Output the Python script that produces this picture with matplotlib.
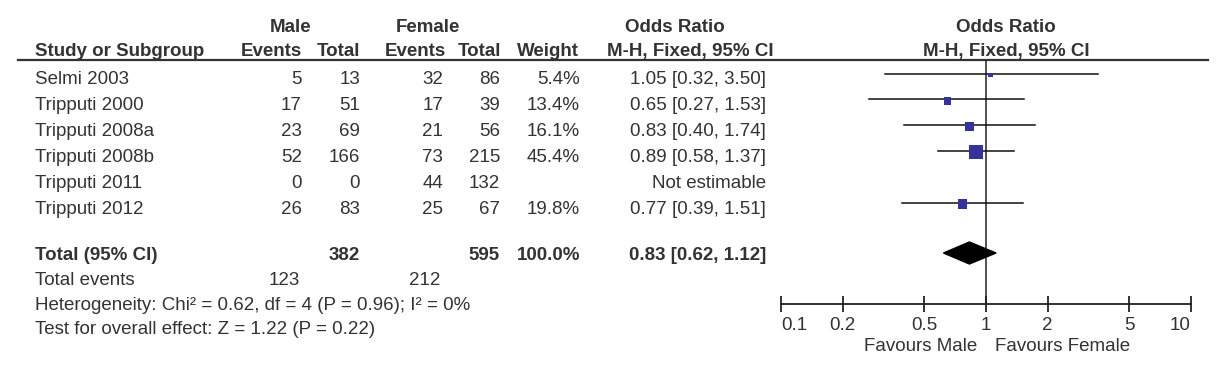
import numpy as np
import matplotlib.pyplot as plt

plt.rcParams['font.family'] = ['Liberation Sans', 'DejaVu Sans']

# Study data
studies = ['Selmi 2003', 'Tripputi 2000', 'Tripputi 2008a', 'Tripputi 2008b',
           'Tripputi 2011', 'Tripputi 2012']
male_events = [5, 17, 23, 52, 0, 26]
male_total = [13, 51, 69, 166, 0, 83]
female_events = [32, 17, 21, 73, 44, 25]
female_total = [86, 39, 56, 215, 132, 67]
weights = [5.4, 13.4, 16.1, 45.4, None, 19.8]
odds = [1.05, 0.65, 0.83, 0.89, None, 0.77]
ci_low = [0.32, 0.27, 0.40, 0.58, None, 0.39]
ci_high = [3.50, 1.53, 1.74, 1.37, None, 1.51]

# Pooled result
total_male, total_female = 382, 595
events_male, events_female = 123, 212
total_or, total_low, total_high = 0.83, 0.62, 1.12

xticks = [0.1, 0.2, 0.5, 1, 2, 5, 10]

TXT = '#333333'
FS = 13.5
W, H = 1228, 372

fig = plt.figure(figsize=(W / 100, H / 100), dpi=100)
ax = fig.add_axes([0, 0, 1, 1])
ax.set_xlim(0, W)
ax.set_ylim(H, 0)
ax.axis('off')


def txt(x, y, s, ha='left', bold=False):
    ax.text(x, y, s, ha=ha, va='baseline', fontsize=FS, color=TXT,
            fontweight='bold' if bold else 'normal')


# headers
txt(291, 32, 'Male', 'center', True)
txt(428, 32, 'Female', 'center', True)
txt(675, 32, 'Odds Ratio', 'center', True)
txt(1006, 32, 'Odds Ratio', 'center', True)
txt(35, 56, 'Study or Subgroup', 'left', True)
for x, s in [(302, 'Events'), (360, 'Total'), (446, 'Events'), (501, 'Total'), (579, 'Weight')]:
    txt(x, 56, s, 'right', True)
txt(690, 56, 'M-H, Fixed, 95% CI', 'center', True)
txt(1006, 56, 'M-H, Fixed, 95% CI', 'center', True)
ax.plot([18, 1208], [60, 60], color='#333333', lw=1.6)

row_y = 73.5 + 25.8 * np.arange(len(studies))
base = 11  # text baseline below the CI line

for i, name in enumerate(studies):
    y = row_y[i] + base
    txt(35, y, name)
    txt(302, y, str(male_events[i]), 'right')
    txt(360, y, str(male_total[i]), 'right')
    txt(443, y, str(female_events[i]), 'right')
    txt(500, y, str(female_total[i]), 'right')
    if odds[i] is None:
        txt(766, y, 'Not estimable', 'right')
    else:
        txt(580, y, f'{weights[i]:.1f}%', 'right')
        txt(766, y, f'{odds[i]:.2f} [{ci_low[i]:.2f}, {ci_high[i]:.2f}]', 'right')

# totals
ty = 260
txt(35, ty, 'Total (95% CI)', 'left', True)
txt(360, ty, str(total_male), 'right', True)
txt(500, ty, str(total_female), 'right', True)
txt(580, ty, '100.0%', 'right', True)
txt(766, ty, f'{total_or:.2f} [{total_low:.2f}, {total_high:.2f}]', 'right', True)
txt(35, 285, 'Total events')
txt(300, 285, str(events_male), 'right')
txt(440, 285, str(events_female), 'right')
txt(35, 310, 'Heterogeneity: Chi² = 0.62, df = 4 (P = 0.96); I² = 0%')
txt(35, 334, 'Test for overall effect: Z = 1.22 (P = 0.22)')

# forest plot axes, log scale, bottom spine as the OR axis
x0, x1, y_top, y_axis = 781, 1191, 60, 304
fx = fig.add_axes([x0 / W, (H - y_axis) / H, (x1 - x0) / W, (y_axis - y_top) / H])
fx.patch.set_alpha(0)
fx.set_xscale('log')
fx.set_xlim(0.1, 10)
fx.set_ylim(y_axis, y_top)
for sp in ['top', 'left', 'right']:
    fx.spines[sp].set_visible(False)
fx.spines['bottom'].set_color('#222222')
fx.spines['bottom'].set_linewidth(1.3)
fx.set_yticks([])
fx.set_xticks(xticks)
fx.set_xticklabels([f'{t:g}' for t in xticks])
fx.xaxis.set_minor_locator(plt.NullLocator())
fx.tick_params(axis='x', direction='inout', length=12, width=1.3, color='#222222',
               labelsize=FS, labelcolor=TXT, pad=3)
labels = fx.get_xticklabels()
labels[0].set_horizontalalignment('left')
labels[-1].set_horizontalalignment('right')
fx.axvline(1, color='#222222', lw=1.1)

for i in range(len(studies)):
    if odds[i] is None:
        continue
    y = row_y[i]
    fx.plot([ci_low[i], ci_high[i]], [y, y], color='#111111', lw=1.1)
    fx.scatter([odds[i]], [y + 1.5], marker='s', s=weights[i] * 2.2, color='#333399',
               edgecolors='none', zorder=3)

dy = 11
fx.fill([total_low, total_or, total_high, total_or], [253, 253 - dy, 253, 253 + dy],
        color='black', zorder=3)

ax.text(977, 351, 'Favours Male', ha='right', va='baseline', fontsize=FS, color=TXT)
ax.text(995, 351, 'Favours Female', ha='left', va='baseline', fontsize=FS, color=TXT)

fig.savefig('out.png', dpi=100, facecolor='white')
